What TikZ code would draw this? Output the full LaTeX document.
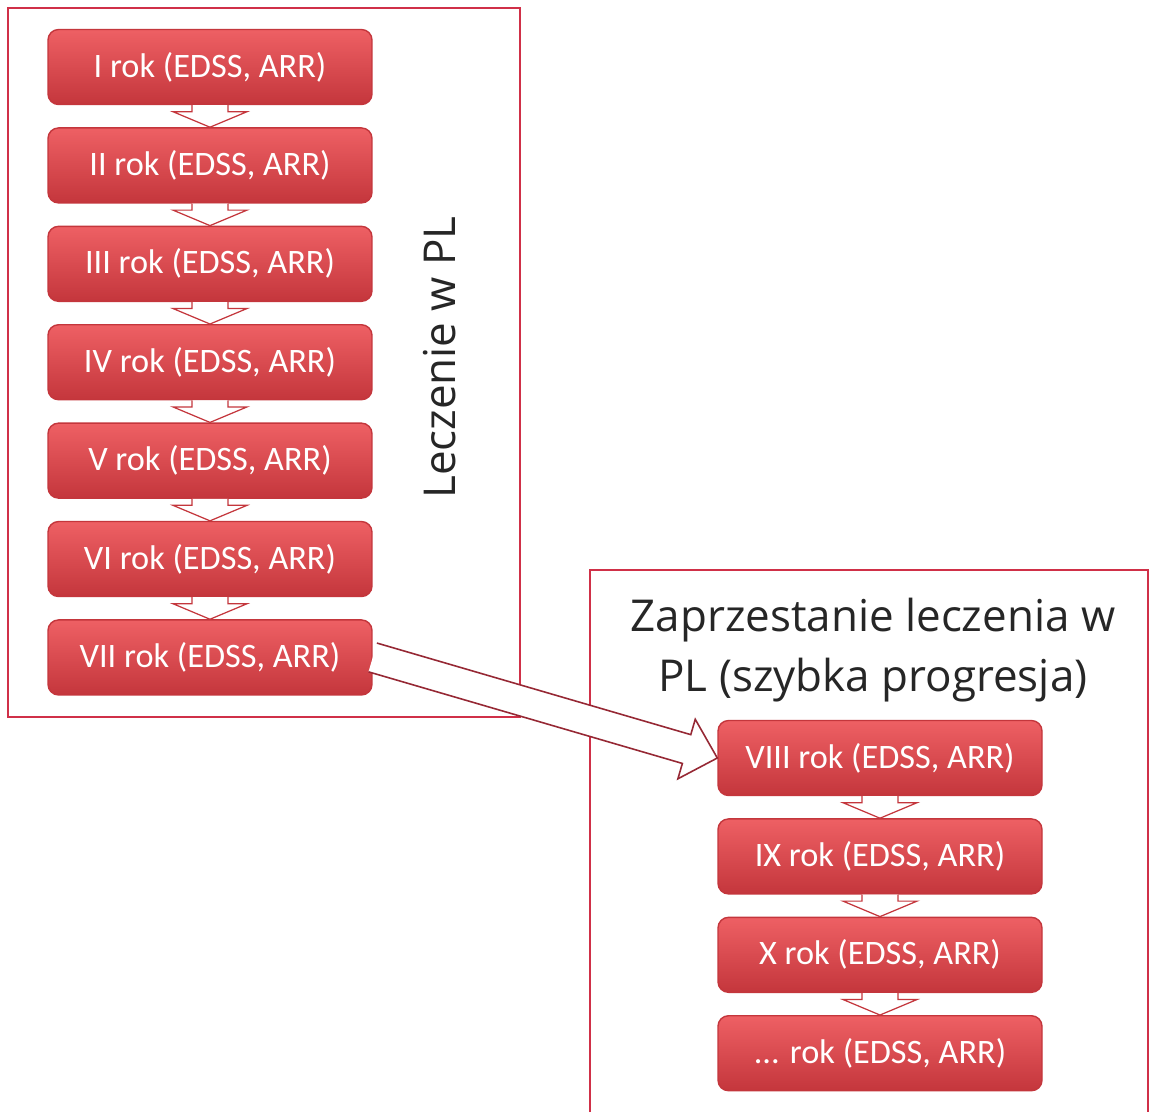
\documentclass[tikz,border=0pt]{standalone}
\usepackage{fontspec}
\setmainfont{Carlito}
\newfontfamily\labelfont{Open Sans}
\usepackage{xcolor}
\definecolor{mlboxred}{RGB}{232,70,76}
\definecolor{mlboxlight}{RGB}{238,96,100}
\definecolor{mlboxdark}{RGB}{196,54,60}
\definecolor{mlframe}{RGB}{208,48,72}
\definecolor{mlarrow}{RGB}{150,40,52}
\definecolor{mltext}{RGB}{38,38,38}
\usepackage{tikz}
\usetikzlibrary{arrows.meta, positioning, calc}
\tikzset{
  yearbox/.style={draw=mlboxdark, line width=0.8pt, rounded corners=6pt, top color=mlboxlight, middle color=mlboxred, bottom color=mlboxdark, minimum width=6.48cm, minimum height=1.5cm, text=white, font=\fontsize{19.5}{22}\selectfont},
  downarrow/.style={draw=mlboxdark, fill=white, line width=0.7pt, line join=miter},
  jumparrow/.style={draw=mlarrow, fill=white, line width=0.9pt, line join=miter},
  phaseframe/.style={draw=mlframe, line width=1.2pt},
  caption/.style={font=\labelfont\fontsize{25}{34}\selectfont, text=mltext}
}

\begin{document}
\begin{tikzpicture}[node distance=0.44cm]
  \fill[white] (0,0) rectangle (23.02,-22.24);
  \useasboundingbox (0,0) rectangle (23.02,-22.24);
  \draw[phaseframe] (0.16,-0.16) rectangle (10.4,-14.34);
  \draw[phaseframe] (11.8,-22.24) |- (22.96,-11.4) -- (22.96,-22.24);
  \node[yearbox] (r1) at (4.2,-1.34) {I rok (EDSS, ARR)};
  \node[yearbox, below=of r1] (r2) {II rok (EDSS, ARR)};
  \node[yearbox, below=of r2] (r3) {III rok (EDSS, ARR)};
  \node[yearbox, below=of r3] (r4) {IV rok (EDSS, ARR)};
  \node[yearbox, below=of r4] (r5) {V rok (EDSS, ARR)};
  \node[yearbox, below=of r5] (r6) {VI rok (EDSS, ARR)};
  \node[yearbox, below=of r6] (r7) {VII rok (EDSS, ARR)};
  \node[yearbox] (r8) at (17.6,-15.16) {VIII rok (EDSS, ARR)};
  \node[yearbox, below=of r8] (r9) {IX rok (EDSS, ARR)};
  \node[yearbox, below=of r9] (r10) {X rok (EDSS, ARR)};
  \node[yearbox, below=of r10] (r11) {... rok (EDSS, ARR)};
  \node[caption, rotate=90] (leczenie) at (8.8,-7.15) {Leczenie w PL};
  \node[caption, align=center] (zaprzestanie) at (17.46,-13.0) {Zaprzestanie leczenia w\\PL (szybka progresja)};
  \foreach \a/\b in {r1/r2, r2/r3, r3/r4, r4/r5, r5/r6, r6/r7, r8/r9, r9/r10, r10/r11}
    \draw[downarrow] ($(\a.south)+(-0.36,0)$) -- ++(0,-0.13) -- ++(-0.38,0) -- (\b.north)
      -- ($(\a.south)+(0.74,-0.13)$) -- ++(-0.38,0) -- ++(0,0.13);
  \coordinate (ps) at (r7.east);
  \coordinate (pt) at (r8.west);
  \coordinate (hb) at ($(pt)!0.64cm!(ps)$);
  \draw[jumparrow] ($(ps)!0.3cm!90:(pt)$) -- ($(hb)!0.3cm!-90:(ps)$) -- ($(hb)!0.62cm!-90:(ps)$)
    -- (pt) -- ($(hb)!0.62cm!90:(ps)$) -- ($(hb)!0.3cm!90:(ps)$) -- ($(ps)!0.3cm!-90:(pt)$);
\end{tikzpicture}
\end{document}
